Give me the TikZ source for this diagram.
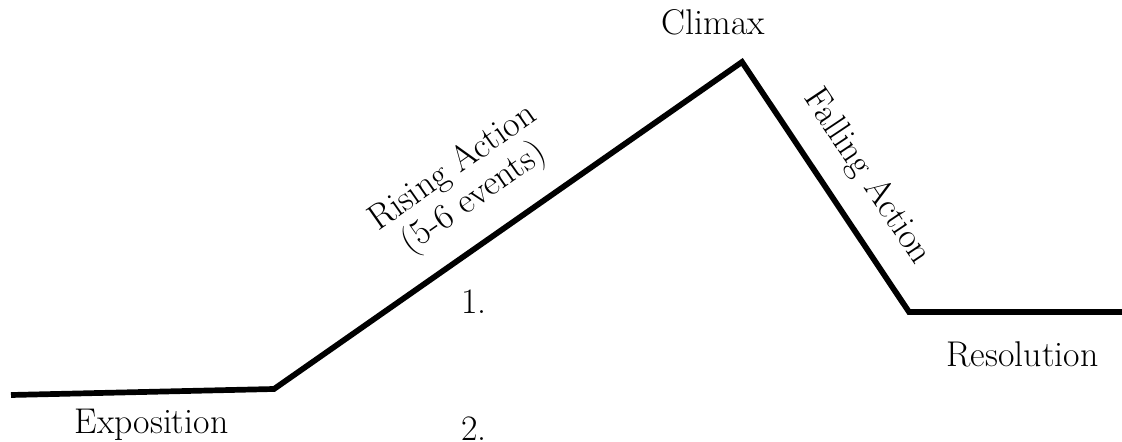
\documentclass[tikz,border=0pt]{standalone}
\usepackage{fontspec}
\begin{document}
\begin{tikzpicture}[x=0.5pt,y=-0.5pt,
  lbl/.style={inner sep=0pt,font=\fontsize{17.9pt}{18.5pt}\selectfont},
  plot/.style={line width=2.85pt,line join=miter}]
\useasboundingbox (0,0) rectangle (1122,442);
\coordinate (start) at (11,395);
\coordinate (expo) at (274,389);
\coordinate (peak) at (742,62);
\coordinate (low) at (909,312);
\coordinate (fin) at (1130,312);
\draw[plot] (start) -- (expo) -- (peak) -- (low) -- (fin);
\node[lbl,anchor=base] (climax) at (713.5,35) {Climax};
\node[lbl,anchor=base] (exposition) at (151.5,433) {Exposition};
\node[lbl,anchor=base] (resolution) at (1022.5,366) {Resolution};
\node[lbl,anchor=base] (one) at (474,314) {1.};
\node[lbl,anchor=base] (two) at (474,440) {2.};
\node[lbl,align=center,rotate=35] (rising) at (464,184) {Rising Action\\(5-6 events)};
\node[lbl,rotate=-56.3] (falling) at (867,177) {Falling Action};
\end{tikzpicture}
\end{document}
